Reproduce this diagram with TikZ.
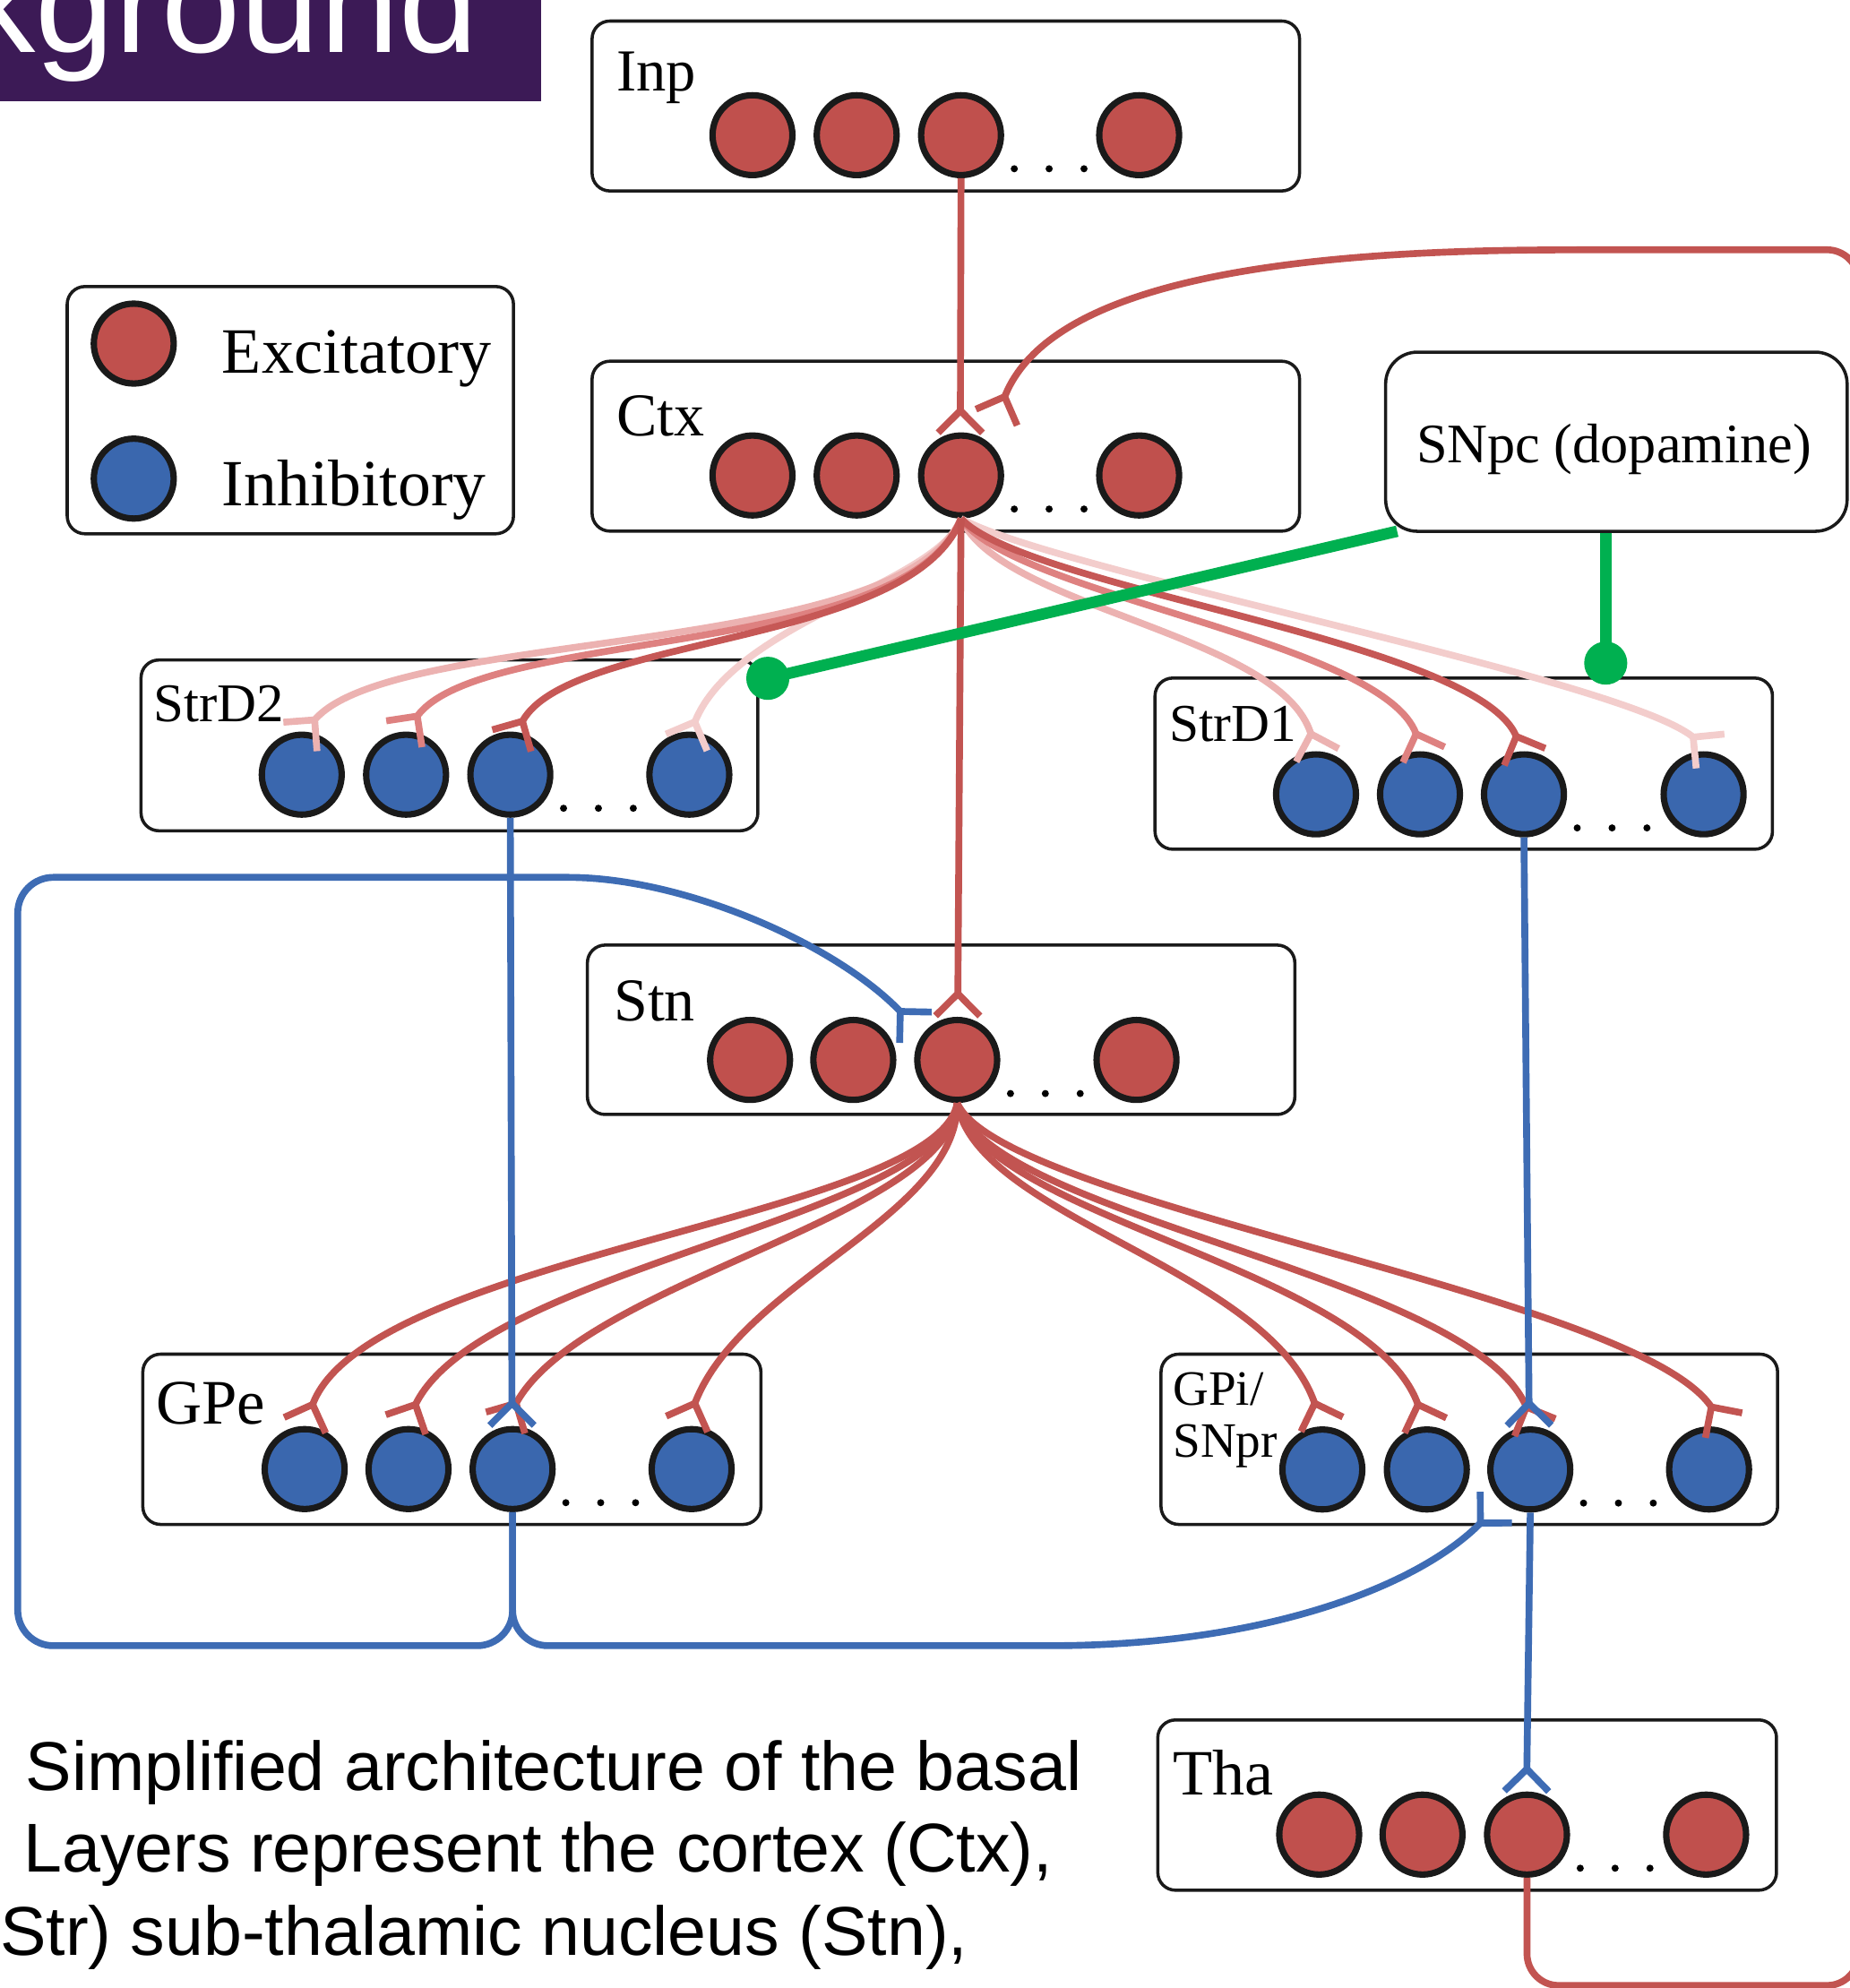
\documentclass[tikz,border=0pt]{standalone}
\usepackage{fontspec}
\setmainfont{Liberation Serif}
\newfontfamily\sansf{Liberation Sans}
\usetikzlibrary{decorations.markings}
\definecolor{redn}{RGB}{192,80,77}
\definecolor{bluen}{RGB}{58,103,174}
\definecolor{redl}{RGB}{194,84,81}
\definecolor{bluel}{RGB}{62,108,180}
\definecolor{pinkA}{RGB}{236,178,177}
\definecolor{pinkB}{RGB}{222,129,128}
\definecolor{pinkC}{RGB}{198,88,86}
\definecolor{pinkD}{RGB}{243,205,204}
\definecolor{grn}{RGB}{0,176,80}
\definecolor{purp}{RGB}{60,26,86}
\definecolor{edgec}{RGB}{26,26,26}
\newcommand\neuronrow[7]{%
  \node[#2] (#1a) at (#4,#3) {};
  \node[#2] (#1b) at (#5,#3) {};
  \node[#2] (#1c) at (#6,#3) {};
  \node[#2] (#1d) at (#7,#3) {};
  \fill[black] (#6,#3) ++(42,26.5) circle (2.8) ++(27.5,0) circle (2.8) ++(27.5,0) circle (2.8);
}
\tikzset{
  layerbox/.style={draw=edgec, line width=2.5pt, rounded corners=14pt, fill=white, inner sep=0pt},
  exneuron/.style={circle, draw=edgec, line width=5pt, fill=redn, minimum size=63pt, inner sep=0pt},
  inneuron/.style={circle, draw=edgec, line width=5pt, fill=bluen, minimum size=63pt, inner sep=0pt},
  wire/.style={line width=5.4pt},
  syn/.style={postaction={decorate, decoration={markings, mark=at position 0.9995 with {\draw[line width=5.4pt, #1] (0,0) -- (17.5,17.5) (0,0) -- (17.5,-17.5);}}}},
  lab/.style={anchor=base west, inner sep=0pt},
}
\begin{document}
\begin{tikzpicture}[x=1pt,y=-1pt]
\useasboundingbox (0,0) rectangle (1459,1568);
\begin{scope}
\clip (0,0) rectangle (1459,1568);
% banner
\fill[purp] (0,0) rectangle (427,80);
\begin{scope}
\clip (0,0) rectangle (427,80);
\node[lab, text=white, font=\sansf\fontsize{112}{112}\selectfont] (title) at (-28,41) {kground};
\end{scope}
% legend
\node[layerbox, minimum width=352pt, minimum height=195pt] (legend) at (229,323.5) {};
\node[exneuron] (legE) at (105.5,271) {};
\node[inneuron] (legI) at (105.5,377.5) {};
\node[lab, font=\fontsize{51}{55}\selectfont] (legEt) at (175,294) {Excitatory};
\node[lab, font=\fontsize{52}{55}\selectfont] (legIt) at (175,399) {Inhibitory};
% layer boxes
\node[layerbox, minimum width=558pt, minimum height=134pt] (inpbox) at (746,83.6) {};
\node[layerbox, minimum width=558pt, minimum height=134pt] (ctxbox) at (746,351.9) {};
\node[layerbox, minimum width=486.5pt, minimum height=134.7pt] (sdtbox) at (354.5,587.9) {};
\node[layerbox, minimum width=487pt, minimum height=135pt] (sdobox) at (1154.5,602.3) {};
\node[layerbox, minimum width=558pt, minimum height=133.6pt] (stnbox) at (742.3,812.2) {};
\node[layerbox, minimum width=487.5pt, minimum height=134.3pt] (gpebox) at (356.4,1135.2) {};
\node[layerbox, minimum width=486.3pt, minimum height=134.3pt] (gpibox) at (1158.9,1135.2) {};
\node[layerbox, minimum width=488pt, minimum height=134.3pt] (thabox) at (1157.2,1423.7) {};
\node[layerbox, rounded corners=25pt, minimum width=364pt, minimum height=141.3pt] (snpc) at (1274.9,348.4) {};
% labels
\node[lab, font=\fontsize{47}{50}\selectfont] (inplab) at (486,72) {Inp};
\node[lab, font=\fontsize{48}{52}\selectfont] (ctxlab) at (486,344) {Ctx};
\node[lab, font=\fontsize{43}{47}\selectfont] (sdtlab) at (121,569.5) {StrD2};
\node[lab, font=\fontsize{42}{46}\selectfont] (sdolab) at (922,584.5) {StrD1};
\node[lab, font=\fontsize{48}{52}\selectfont] (stnlab) at (484,805) {Stn};
\node[lab, font=\fontsize{50}{54}\selectfont] (gpelab) at (123,1123.4) {GPe};
\node[lab, font=\fontsize{39}{42}\selectfont] (gpilab) at (925,1108) {GPi/};
\node[lab, font=\fontsize{39}{42}\selectfont] (snprlab) at (925,1149.3) {SNpr};
\node[lab, font=\fontsize{51}{55}\selectfont] (thalab) at (925,1415.4) {Tha};
\node[lab, font=\fontsize{44}{48}\selectfont] (snpclab) at (1117,365) {SNpc (dopamine)};
% neurons
\neuronrow{inp}{exneuron}{106.6}{593.5}{675.7}{758}{898.5}
\neuronrow{ctx}{exneuron}{375}{593.5}{675.7}{758}{898.5}
\neuronrow{sdt}{inneuron}{611}{238}{320.3}{402.5}{543.7}
\neuronrow{sdo}{inneuron}{626.5}{1038}{1120}{1202}{1343.7}
\neuronrow{stn}{exneuron}{836}{591.6}{673}{755}{896.4}
\neuronrow{gpe}{inneuron}{1158.7}{240.3}{322.2}{404.3}{545.5}
\neuronrow{gpi}{inneuron}{1159}{1043}{1125.4}{1207}{1348}
\neuronrow{tha}{exneuron}{1447}{1040.5}{1122}{1204.4}{1345.7}
% synapse points
\coordinate (sInpCtx) at (757.5,324);
\coordinate (sCtxStn) at (755.5,784);
\coordinate (sThaCtx) at (792,314);
\coordinate (sd2a) at (248,568);
\coordinate (sd2b) at (329,565);
\coordinate (sd2c) at (412,569);
\coordinate (sd2d) at (548,569.5);
\coordinate (sd1a) at (1034,579);
\coordinate (sd1b) at (1117,579);
\coordinate (sd1c) at (1196,581);
\coordinate (sd1d) at (1335.7,581.6);
\coordinate (sgea) at (246.5,1108);
\coordinate (sgeb) at (327.6,1108);
\coordinate (sgec) at (407,1107);
\coordinate (sged) at (548,1107);
\coordinate (sgia) at (1037,1107);
\coordinate (sgib) at (1118.5,1108);
\coordinate (sgic) at (1204,1110);
\coordinate (sgid) at (1350,1110);
\coordinate (sbge) at (403.8,1107);
\coordinate (sbgi) at (1206,1107);
\coordinate (sbth) at (1204.3,1395.4);
\coordinate (sbstn) at (710.7,798.4);
\coordinate (sbgpi) at (1168,1201);
% excitatory connectors
\draw[wire, redl, syn=redl] (inpc.south) -- (sInpCtx);
\draw[wire, redl, syn=redl, rounded corners=25pt] (thac.south) -- (1204.4,1566) -- (1466,1566) -- (1466,197) -- (1230,197) [sharp corners] .. controls (950,200) and (820,240) .. (sThaCtx);
\draw[wire, pinkD, syn=pinkD] (ctxc.south) .. controls (740,460) and (580,490) .. (sd2d);
\draw[wire, pinkD, syn=pinkD] (ctxc.south) .. controls (830,450) and (1280,535) .. (sd1d);
\draw[wire, pinkA, syn=pinkA] (ctxc.south) .. controls (710,520) and (310,495) .. (sd2a);
\draw[wire, pinkA, syn=pinkA] (ctxc.south) .. controls (790,480) and (1010,500) .. (sd1a);
\draw[wire, pinkB, syn=pinkB] (ctxc.south) .. controls (715,520) and (380,495) .. (sd2b);
\draw[wire, pinkB, syn=pinkB] (ctxc.south) .. controls (800,470) and (1090,505) .. (sd1b);
\draw[wire, pinkC, syn=pinkC] (ctxc.south) .. controls (720,510) and (450,500) .. (sd2c);
\draw[wire, pinkC, syn=pinkC] (ctxc.south) .. controls (810,465) and (1165,505) .. (sd1c);
\draw[wire, redl, syn=redl] (ctxc.south) -- (sCtxStn);
\draw[wire, redl, syn=redl] (stnc.south) .. controls (740,960) and (290,990) .. (sgea);
\draw[wire, redl, syn=redl] (stnc.south) .. controls (745,960) and (380,1000) .. (sgeb);
\draw[wire, redl, syn=redl] (stnc.south) .. controls (750,960) and (460,1010) .. (sgec);
\draw[wire, redl, syn=redl] (stnc.south) .. controls (755,960) and (585,1010) .. (sged);
\draw[wire, redl, syn=redl] (stnc.south) .. controls (770,960) and (1000,1000) .. (sgia);
\draw[wire, redl, syn=redl] (stnc.south) .. controls (775,960) and (1080,1000) .. (sgib);
\draw[wire, redl, syn=redl] (stnc.south) .. controls (780,960) and (1160,1005) .. (sgic);
\draw[wire, redl, syn=redl] (stnc.south) .. controls (790,950) and (1290,1020) .. (sgid);
% inhibitory connectors
\draw[wire, bluel, syn=bluel] (sdtc.south) -- (sbge);
\draw[wire, bluel, syn=bluel] (sdoc.south) -- (sbgi);
\draw[wire, bluel, syn=bluel] (gpic.south) -- (sbth);
\draw[wire, bluel, syn=bluel, rounded corners=28pt] (gpec.south) -- (404.3,1298) -- (14,1298) -- (14,692) -- (420,692) [sharp corners] .. controls (540,692) and (660,745) .. (sbstn);
\draw[wire, bluel, syn=bluel, rounded corners=28pt] (gpec.south) -- (404.3,1298) -- (800,1298) [sharp corners] .. controls (1000,1298) and (1120,1250) .. (sbgpi);
% dopamine
\node[circle, fill=grn, minimum size=34pt, inner sep=0pt] (dopA) at (605.6,535) {};
\node[circle, fill=grn, minimum size=34pt, inner sep=0pt] (dopB) at (1266.5,523) {};
\coordinate (snpcL) at (1102,419);
\draw[line width=9pt, grn] (snpcL) -- (dopA.center);
\draw[line width=9.5pt, grn] (dopB.center |- snpc.south) -- (dopB.center);
% caption
\node[lab, font=\sansf\fontsize{54.5}{60}\selectfont] (cap1) at (20,1412) {Simplified architecture of the basal};
\node[lab, font=\sansf\fontsize{54.5}{60}\selectfont] (cap2) at (18.5,1476.6) {Layers represent the cortex (Ctx),};
\node[lab, font=\sansf\fontsize{54.5}{60}\selectfont] (cap3) at (0,1542.5) {Str) sub-thalamic nucleus (Stn),};
\end{scope}
\end{tikzpicture}
\end{document}
